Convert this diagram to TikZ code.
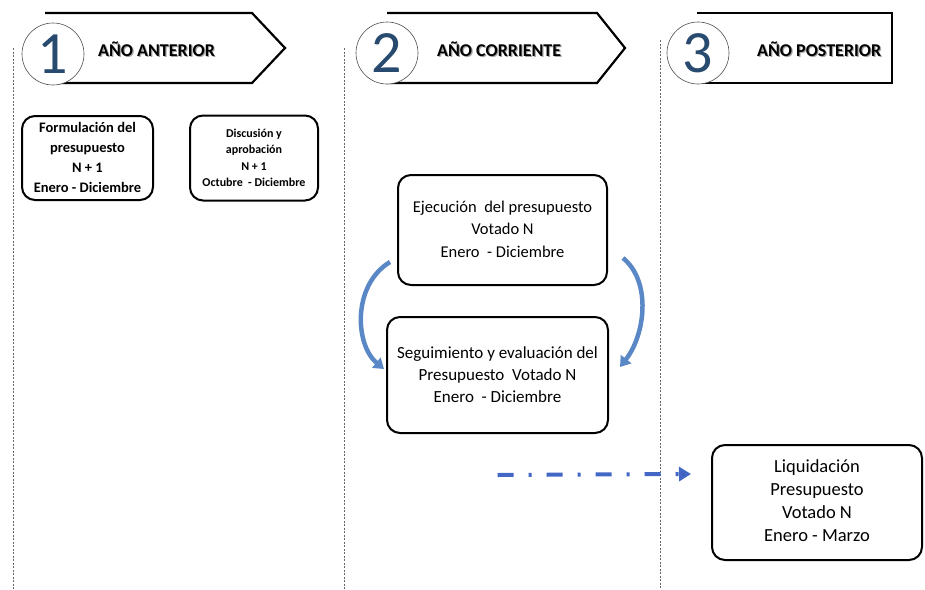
\documentclass[tikz,border=0pt]{standalone}
\usepackage{fontspec}
\setmainfont{Carlito}
\usetikzlibrary{calc,arrows.meta}
\definecolor{numblue}{HTML}{274A6E}
\definecolor{loopblue}{HTML}{5A88C6}
\definecolor{flowblue}{HTML}{4267C4}
\tikzset{
  stagebox/.style={draw=black, line width=2pt, rounded corners=13pt, fill=white, align=center, inner sep=0pt},
  phase/.style={draw=black, line width=2.2pt, line join=miter},
  badge/.style={circle, draw=black!70, line width=0.6pt, fill=white, minimum size=62pt, inner sep=0pt,
                font=\fontsize{60}{60}\selectfont, text=numblue},
  title/.style={font=\fontsize{18}{20}\selectfont\bfseries, anchor=west, inner sep=0pt},
  tshadow/.style={title, text=black!35},
  divider/.style={draw=black!60, line width=0.6pt, dash pattern=on 2pt off 1.5pt},
  loop/.style={draw=loopblue, line width=4.5pt, -{Triangle[width=13pt,length=10pt]}},
}
\begin{document}
\begin{tikzpicture}[x=1pt,y=-1pt]
\useasboundingbox (0,0) rectangle (925,589);

% column dividers
\draw[divider] (13,48) -- (13,589);
\draw[divider] (344,48) -- (344,589);
\draw[divider] (660,40) -- (660,589);

% phase headers
\draw[phase] (45,13) -- (252,13) -- (285,48) -- (252,83) -- (45,83);
\draw[phase] (387,13) -- (597,13) -- (625,48) -- (597,83) -- (387,83);
\draw[phase] (697,13) -- (892,13) -- (892,83) -- (697,83);

\node[badge] (n1) at (53,54) {\raisebox{-1pt}{1}};
\node[badge] (n2) at (387,53) {\raisebox{-1pt}{2}};
\node[badge] (n3) at (698,53) {\raisebox{-1pt}{3}};

\node[tshadow] at (99.2,50.2) {AÑO ANTERIOR};
\node[title] (t1) at (98,49) {AÑO ANTERIOR};
\node[tshadow] at (438.2,50.2) {AÑO CORRIENTE};
\node[title] (t2) at (437,49) {AÑO CORRIENTE};
\node[tshadow] at (758.2,50.2) {AÑO POSTERIOR};
\node[title] (t3) at (757,49) {AÑO POSTERIOR};

% stages
\node[stagebox, minimum width=131pt, minimum height=84pt,
      font=\fontsize{14.5}{20}\selectfont\bfseries] (A) at (87.5,158)
  {\raisebox{-2pt}{\begin{tabular}{@{}c@{}}Formulación del\\presupuesto\\N + 1\\Enero - Diciembre\end{tabular}}};
\node[stagebox, minimum width=128pt, minimum height=85pt,
      font=\fontsize{12}{16.5}\selectfont\bfseries] (B) at (254,158)
  {Discusión y\\aprobación\\N + 1\\Octubre \ - Diciembre};
\node[stagebox, minimum width=209pt, minimum height=110pt,
      font=\fontsize{16.5}{22.5}\selectfont] (C) at (502.5,230)
  {\raisebox{10pt}{\begin{tabular}{@{}c@{}}Ejecución \ del presupuesto\\Votado N\\Enero \ - Diciembre\end{tabular}}};
\node[stagebox, minimum width=221pt, minimum height=116pt,
      font=\fontsize{17}{22}\selectfont] (D) at (497.5,375)
  {Seguimiento y evaluación del\\Presupuesto \ Votado N\\Enero \ - Diciembre};
\node[stagebox, minimum width=210pt, minimum height=115pt,
      font=\fontsize{18.5}{23}\selectfont] (E) at (817,502.5)
  {\raisebox{11pt}{\begin{tabular}{@{}c@{}}Liquidación\\Presupuesto\\Votado N\\Enero - Marzo\end{tabular}}};

% execution / monitoring loop
\draw[loop] ($(C.south west)+(-7,-24)$) .. controls (352,285) and (355,345) .. ($(D.west)+(-2,-6)$);
\draw[loop] ($(C.south east)+(15,-28)$) .. controls (652,282) and (645,335) .. ($(D.east)+(11,-8)$);

% transfer to the following year
\coordinate (fs) at ($(D.south)+(0,41)$);
\coordinate (fe) at (691,474);
\draw[draw=flowblue, line width=4pt, dash pattern=on 16pt off 15pt on 3pt off 15pt,
      -{Triangle[width=14pt,length=12pt,fill=flowblue!85!violet]}] (fs) -- (fe);
\end{tikzpicture}
\end{document}
